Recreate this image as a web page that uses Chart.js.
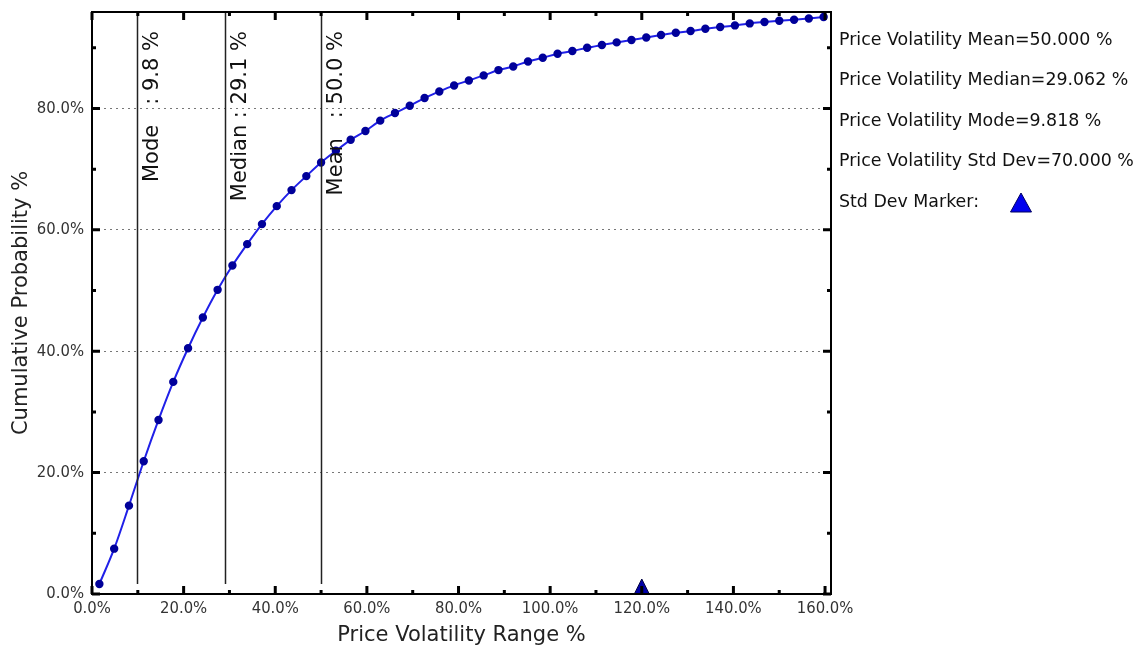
<!DOCTYPE html>
<html>
<head>
<meta charset="utf-8">
<script src="https://cdn.jsdelivr.net/npm/chart.js@4.4.1/dist/chart.umd.min.js"></script>
<style>
  html, body { margin: 0; padding: 0; background: #fff; }
  #wrap { width: 1142px; height: 645px; }
</style>
</head>
<body>
<div id="wrap"><canvas id="chart" width="1142" height="645"></canvas></div>
<script>
// bin centres of the simulated volatility range (%)
const volRange = [
  1.61, 4.84, 8.07, 11.29, 14.52, 17.74, 20.97, 24.20, 27.42, 30.65,
  33.87, 37.10, 40.33, 43.55, 46.78, 50.00, 53.23, 56.46, 59.68, 62.91,
  66.13, 69.36, 72.59, 75.81, 79.04, 82.26, 85.49, 88.72, 91.94, 95.17,
  98.39, 101.62, 104.85, 108.07, 111.30, 114.52, 117.75, 120.98, 124.20, 127.43,
  130.65, 133.88, 137.11, 140.33, 143.56, 146.78, 150.01, 153.24, 156.46, 159.69
];
// cumulative probability (%)
const cumProb = [
  1.65, 7.47, 14.56, 21.88, 28.68, 34.95, 40.50, 45.55, 50.12, 54.12,
  57.65, 60.95, 63.91, 66.55, 68.86, 71.10, 73.03, 74.84, 76.29, 78.00,
  79.25, 80.45, 81.72, 82.81, 83.80, 84.62, 85.45, 86.33, 86.93, 87.75,
  88.36, 89.02, 89.47, 90.01, 90.46, 90.89, 91.28, 91.71, 92.11, 92.48,
  92.76, 93.14, 93.42, 93.69, 94.02, 94.25, 94.46, 94.63, 94.84, 95.07
];

const xTicks = [0, 20, 40, 60, 80, 100, 120, 140, 160];
const yTicks = [0, 20, 40, 60, 80];
const X_MAX = 161.3;
const Y_MAX = 95.9;

const markerNames = ['Mode', 'Median', 'Mean'];
const markerValues = [9.818, 29.062, 50.0];
const stdDevMarkerX = 120;

const statsLines = [
  'Price Volatility Mean=50.000 %',
  'Price Volatility Median=29.062 %',
  'Price Volatility Mode=9.818 %',
  'Price Volatility Std Dev=70.000 %'
];
const stdMarkerLabel = 'Std Dev Marker:';

const TICK_FONT = "'DejaVu Sans Condensed', 'DejaVu Sans', sans-serif";
const TEXT_FONT = "'DejaVu Sans', sans-serif";

function triangle(ctx, cx, baseY, w, h, fill, stroke) {
  ctx.beginPath();
  ctx.moveTo(cx, baseY - h);
  ctx.lineTo(cx + w / 2, baseY);
  ctx.lineTo(cx - w / 2, baseY);
  ctx.closePath();
  ctx.fillStyle = fill;
  ctx.fill();
  ctx.lineWidth = 1;
  ctx.strokeStyle = stroke;
  ctx.stroke();
}

// frame, inward ticks, stat lines and the text block on the right
const decorations = {
  id: 'decorations',
  afterDatasetsDraw(chart) {
    const {ctx, chartArea: a, scales: {x, y}} = chart;
    ctx.save();

    // vertical stat lines with their rotated labels
    ctx.strokeStyle = '#222';
    ctx.lineWidth = 1.5;
    markerValues.forEach((v, i) => {
      const px = Math.round(x.getPixelForValue(v)) + 0.5;
      ctx.beginPath();
      ctx.moveTo(px, y.getPixelForValue(cumProb[0]));
      ctx.lineTo(px, a.top);
      ctx.stroke();

      ctx.save();
      ctx.translate(px + 5, a.top + 19);
      ctx.rotate(-Math.PI / 2);
      ctx.fillStyle = '#111';
      ctx.font = '21px ' + TEXT_FONT;
      ctx.textAlign = 'right';
      ctx.textBaseline = 'top';
      ctx.fillText(markerNames[i].padEnd(6, ' ') + ' : ' + v.toFixed(1) + ' %', 0, 0);
      ctx.restore();
    });

    // std dev marker on the x axis
    triangle(ctx, x.getPixelForValue(stdDevMarkerX), y.getPixelForValue(0), 15, 15, '#0000a8', '#000040');

    // frame
    ctx.strokeStyle = '#000';
    ctx.lineWidth = 2;
    ctx.strokeRect(a.left, a.top, a.right - a.left, a.bottom - a.top);

    // inward ticks, major every 20, minor every 10
    ctx.lineWidth = 3;
    ctx.beginPath();
    for (let v = 0; v <= 160; v += 10) {
      const len = v % 20 === 0 ? 8 : 4;
      const px = x.getPixelForValue(v);
      ctx.moveTo(px, a.bottom);
      ctx.lineTo(px, a.bottom - len);
      ctx.moveTo(px, a.top);
      ctx.lineTo(px, a.top + len);
    }
    for (let v = 0; v <= 90; v += 10) {
      const len = v % 20 === 0 ? 8 : 4;
      const py = y.getPixelForValue(v);
      ctx.moveTo(a.left, py);
      ctx.lineTo(a.left + len, py);
      ctx.moveTo(a.right, py);
      ctx.lineTo(a.right - len, py);
    }
    ctx.stroke();

    // statistics text block
    ctx.fillStyle = '#111';
    ctx.font = '17.4px ' + TEXT_FONT;
    ctx.textAlign = 'left';
    ctx.textBaseline = 'middle';
    const tx = a.right + 8;
    statsLines.forEach((s, i) => ctx.fillText(s, tx, 40 + i * 40.5));
    const my = 40 + statsLines.length * 40.5;
    ctx.fillText(stdMarkerLabel, tx, my);
    triangle(ctx, 1021, my + 10, 21, 19, '#0000ee', '#000060');

    ctx.restore();
  }
};

new Chart(document.getElementById('chart'), {
  type: 'line',
  data: {
    datasets: [{
      data: volRange.map((v, i) => ({x: v, y: cumProb[i]})),
      borderColor: '#2020e8',
      borderWidth: 2,
      backgroundColor: '#00009a',
      pointBackgroundColor: '#00009a',
      pointBorderColor: '#00009a',
      pointRadius: 3.2,
      cubicInterpolationMode: 'monotone',
      fill: false
    }]
  },
  options: {
    responsive: false,
    animation: false,
    events: [],
    layout: {padding: {left: 0, top: 12, right: 311, bottom: 0}},
    plugins: {legend: {display: false}, tooltip: {enabled: false}},
    scales: {
      x: {
        type: 'linear',
        min: 0,
        max: X_MAX,
        afterBuildTicks: s => { s.ticks = xTicks.map(v => ({value: v})); },
        afterFit: s => { s.height = 51; s.paddingLeft = 0; s.paddingRight = 0; },
        grid: {display: false, drawTicks: false},
        border: {display: false},
        ticks: {
          padding: 5,
          color: '#333',
          font: {family: TICK_FONT, size: 16.5},
          callback: v => v.toFixed(1) + '%'
        },
        title: {
          display: true,
          text: 'Price Volatility Range %',
          color: '#222',
          font: {family: TEXT_FONT, size: 21},
          padding: {top: 0, bottom: -3}
        }
      },
      y: {
        type: 'linear',
        min: 0,
        max: Y_MAX,
        afterBuildTicks: s => { s.ticks = yTicks.map(v => ({value: v})); },
        afterFit: s => { s.width = 92; s.paddingTop = 0; s.paddingBottom = 0; },
        grid: {
          drawTicks: false,
          color: c => (c.tick && c.tick.value > 0 ? '#777' : 'rgba(0,0,0,0)'),
          lineWidth: 1
        },
        border: {display: false, dash: [2, 4]},
        ticks: {
          padding: 8,
          color: '#333',
          font: {family: TICK_FONT, size: 16.5},
          callback: v => v.toFixed(1) + '%'
        },
        title: {
          display: true,
          text: 'Cumulative Probability %',
          color: '#222',
          font: {family: TEXT_FONT, size: 21},
          padding: {top: 9, bottom: 0}
        }
      }
    }
  },
  plugins: [decorations]
});
</script>
</body>
</html>
